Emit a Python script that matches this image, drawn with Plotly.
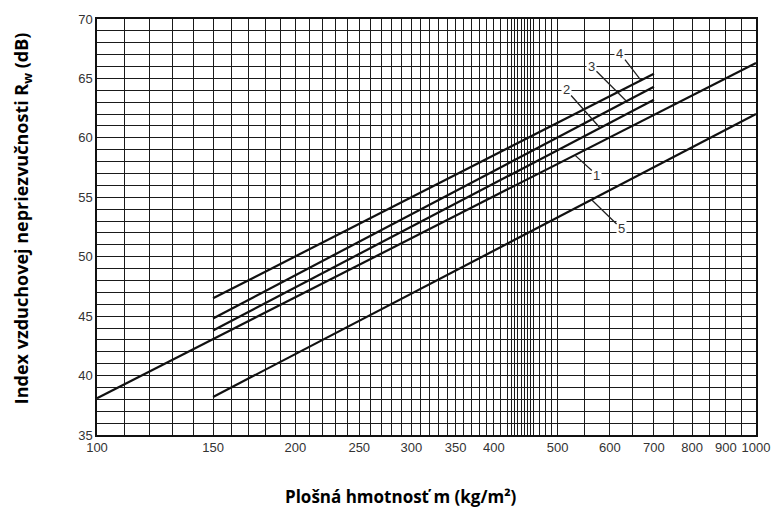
import numpy as np
import plotly.graph_objects as go

# ---- data ----
series_names = ["1", "2", "3", "4", "5"]
m_1 = [100, 1000]
r_1 = [38.1, 66.3]
m_2 = [150, 700]
r_2 = [43.8, 63.2]
m_3 = [150, 700]
r_3 = [44.8, 64.3]
m_4 = [150, 700]
r_4 = [46.5, 65.4]
m_5 = [150, 1000]
r_5 = [38.2, 62.0]

x_tick_labels = [100, 150, 200, 250, 300, 350, 400, 500, 600, 700, 800, 900, 1000]
y_tick_labels = [35, 40, 45, 50, 55, 60, 65, 70]

# grid positions of the nomogram paper
x_grid = (list(range(100, 420, 10)) + list(range(420, 460, 5)) +
          list(range(460, 500, 10)) + list(range(500, 1001, 50)))
y_grid = list(range(35, 71))

# label leader points (m value on each line) and text offsets (px)
label_m = {"1": 531, "2": 580, "3": 636, "4": 669, "5": 563}
label_off = {"1": (22, 20), "2": (-34, -38), "3": (-35, -35), "4": (-21, -27), "5": (30, 29)}

series = {"1": (m_1, r_1), "2": (m_2, r_2), "3": (m_3, r_3), "4": (m_4, r_4), "5": (m_5, r_5)}

fig = go.Figure()
for name in series_names:
    mx, ry = series[name]
    fig.add_trace(go.Scatter(x=mx, y=ry, mode="lines", name=name,
                             line=dict(color="#111111", width=2.2), showlegend=False))

for name in series_names:
    mx, ry = series[name]
    xm = label_m[name]
    yv = float(np.interp(np.log10(xm), np.log10(mx), ry))
    ax, ay = label_off[name]
    fig.add_annotation(x=np.log10(xm), y=yv, xref="x", yref="y", text=name,
                       showarrow=True, arrowhead=0, arrowwidth=1.3, arrowcolor="#222",
                       ax=ax, ay=ay, bgcolor="white", borderpad=1,
                       font=dict(family="Liberation Sans, Arial", size=13, color="#333"))

xt_text = [str(v) if v in x_tick_labels else "" for v in x_grid]
yt_text = [str(v) if v in y_tick_labels else "" for v in y_grid]

fig.update_xaxes(type="log", range=[2, 3], tickvals=x_grid, ticktext=xt_text,
                 showgrid=True, gridcolor="#1a1a1a", gridwidth=1.4,
                 showline=True, linecolor="#111", linewidth=1.5, mirror=True,
                 ticks="", tickfont=dict(family="Liberation Sans, Arial", size=13, color="#333"),
                 zeroline=False)
fig.update_yaxes(range=[35, 70], tickvals=y_grid, ticktext=yt_text,
                 showgrid=True, gridcolor="#1a1a1a", gridwidth=1.4,
                 showline=True, linecolor="#111", linewidth=1.5, mirror=True,
                 ticks="", tickfont=dict(family="Liberation Sans, Arial", size=13, color="#333"),
                 zeroline=False)

fig.add_annotation(text="<b>Plošná hmotnosť m (kg/m²)</b>", xref="paper", yref="paper",
                   x=0.461, y=-0.149, xanchor="center", yanchor="middle", showarrow=False,
                   font=dict(family="Open Sans, Noto Sans", size=17, color="#000"))
fig.add_annotation(text="<b>Index vzduchovej nepriezvučnosti R<sub>w</sub> (dB)</b>",
                   xref="paper", yref="paper", x=-0.113, y=0.52, textangle=-90,
                   xanchor="center", yanchor="middle", showarrow=False,
                   font=dict(family="Open Sans, Noto Sans", size=18, color="#000"))

fig.update_layout(width=782, height=508, margin=dict(l=97, r=24, t=18, b=73),
                  paper_bgcolor="white", plot_bgcolor="white")
fig.write_html("out.html", config={"displayModeBar": False},
               post_script="document.body.style.margin='0px';")
